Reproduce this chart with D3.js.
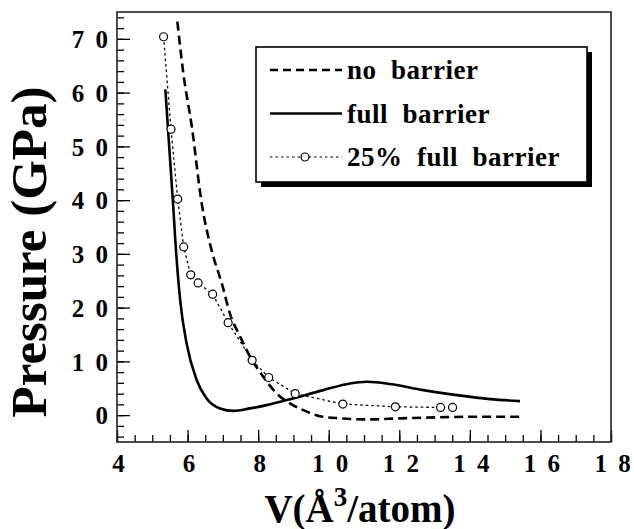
<!DOCTYPE html>
<html>
<head>
<meta charset="utf-8">
<script src="https://cdn.jsdelivr.net/npm/d3@7"></script>
<style>
  body { margin: 0; background: #fff; }
  svg, svg text { font-family: "Liberation Serif", "Times New Roman", serif; font-weight: bold; }
  .tick text { font-size: 25px; word-spacing: 5px; }
</style>
</head>
<body>
<svg width="634" height="529"></svg>
<script>
// values
const noBarrierV = [5.71, 5.88, 6.12, 6.40, 6.68, 6.97, 7.2, 7.49, 7.77, 8.15, 8.53, 8.9, 9.28, 9.75, 10.32, 11.08, 12.02, 13.15, 14.1, 15.42];
const noBarrierP = [73.2, 63.6, 53.7, 39.4, 30.7, 24.5, 18.9, 14.6, 10.9, 7.1, 4.0, 2.2, 0.93, -0.19, -0.6, -0.8, -0.6, -0.4, -0.3, -0.3];

const fullBarrierV = [5.37, 5.6, 5.64, 5.79, 5.97, 6.26, 6.54, 6.92, 7.30, 7.77, 8.24, 8.81, 9.85, 10.6, 11.08, 11.74, 12.68, 13.63, 14.57, 15.42];
const fullBarrierP = [60.6, 38.2, 33.8, 21.4, 13.4, 6.5, 3.1, 1.25, 0.8, 1.25, 1.86, 2.8, 4.65, 5.9, 6.2, 5.8, 4.65, 3.72, 2.98, 2.6];

const quarterV = [5.32, 5.53, 5.72, 5.89, 6.09, 6.30, 6.71, 7.15, 7.83, 8.30, 9.05, 10.40, 11.89, 13.17, 13.51];
const quarterP = [70.4, 53.2, 40.2, 31.3, 26.1, 24.6, 22.5, 17.2, 10.2, 7.0, 4.0, 2.05, 1.55, 1.43, 1.43];

const xTicks = [4, 6, 8, 10, 12, 14, 16, 18];
const yTicks = [0, 10, 20, 30, 40, 50, 60, 70];
const legendLabels = ['no  barrier', 'full  barrier', '25%  full  barrier'];

const svg = d3.select('svg');
const margin = { top: 12, right: 23, bottom: 87, left: 117 };
const width = +svg.attr('width') - margin.left - margin.right;
const height = +svg.attr('height') - margin.top - margin.bottom;

const x = d3.scaleLinear().domain([4, 18]).range([0, width]);
const y = d3.scaleLinear().domain([-5, 75]).range([height, 0]);

const g = svg.append('g').attr('transform', `translate(${margin.left},${margin.top})`);

const spaced = d => String(d).split('').join(' ');

// minor ticks
g.append('g')
  .attr('transform', `translate(0,${height})`)
  .call(d3.axisBottom(x).tickValues(d3.range(4, 18.01, 0.5)).tickSize(-7).tickFormat(''))
  .call(a => a.select('.domain').remove());
g.append('g')
  .call(d3.axisLeft(y).tickValues(d3.range(-4, 75, 2)).tickSize(-7).tickFormat(''))
  .call(a => a.select('.domain').remove());

// major ticks + labels
const xAxis = g.append('g')
  .attr('transform', `translate(0,${height})`)
  .call(d3.axisBottom(x).tickValues(xTicks).tickSize(-12).tickPadding(0).tickFormat(spaced));
xAxis.selectAll('text')
  .attr('y', 30).attr('dy', 0).attr('dx', 1)
  .attr('fill', '#000');

const yAxis = g.append('g')
  .call(d3.axisLeft(y).tickValues(yTicks).tickSize(-13).tickPadding(0).tickFormat(spaced));
yAxis.selectAll('text')
  .attr('x', -9).attr('dy', '0.35em')
  .attr('fill', '#000');

svg.selectAll('.tick line').attr('stroke', '#000').attr('stroke-width', 1.3);
svg.selectAll('.domain').remove();
svg.selectAll('g').attr('font-family', null).attr('font-size', null);

// frame
g.append('rect')
  .attr('width', width).attr('height', height)
  .attr('fill', 'none').attr('stroke', '#222').attr('stroke-width', 1.6);

// curves
const mono = d3.line().x(d => x(d[0])).y(d => y(d[1])).curve(d3.curveMonotoneX);
const straight = d3.line().x(d => x(d[0])).y(d => y(d[1]));

const noBarrier = d3.zip(noBarrierV, noBarrierP);
const fullBarrier = d3.zip(fullBarrierV, fullBarrierP);
const quarter = d3.zip(quarterV, quarterP);

g.append('path').datum(noBarrier)
  .attr('d', mono).attr('fill', 'none').attr('stroke', '#000')
  .attr('stroke-width', 2.6).attr('stroke-dasharray', '9,5');

g.append('path').datum(fullBarrier)
  .attr('d', mono).attr('fill', 'none').attr('stroke', '#000')
  .attr('stroke-width', 2.6);

g.append('path').datum(quarter)
  .attr('d', straight).attr('fill', 'none').attr('stroke', '#000')
  .attr('stroke-width', 1.3).attr('stroke-dasharray', '2.5,3');

g.selectAll('.pt').data(quarter).enter()
  .append('circle').attr('class', 'pt')
  .attr('cx', d => x(d[0])).attr('cy', d => y(d[1])).attr('r', 4)
  .attr('fill', '#fff').attr('stroke', '#000').attr('stroke-width', 1.2);

// legend
const lg = svg.append('g').attr('transform', 'translate(256,47)');
lg.append('rect').attr('x', 5).attr('y', 5).attr('width', 331).attr('height', 135).attr('fill', '#000');
lg.append('rect').attr('width', 331).attr('height', 135)
  .attr('fill', '#fff').attr('stroke', '#000').attr('stroke-width', 1.6);

const rows = [
  { dash: '8,5', w: 2.4, marker: false },
  { dash: null, w: 2.4, marker: false },
  { dash: '2.5,3', w: 1.2, marker: true },
];
rows.forEach((r, i) => {
  const ry = 23 + i * 43.5;
  lg.append('line').attr('x1', 14).attr('x2', 86).attr('y1', ry).attr('y2', ry)
    .attr('stroke', '#000').attr('stroke-width', r.w)
    .attr('stroke-dasharray', r.dash);
  if (r.marker) {
    lg.append('circle').attr('cx', 49).attr('cy', ry).attr('r', 4)
      .attr('fill', '#fff').attr('stroke', '#000').attr('stroke-width', 1.2);
  }
  lg.append('text').attr('x', 91).attr('y', ry + 9)
    .style('font-size', '27px').style('letter-spacing', '0.5px').style('white-space', 'pre')
    .text(legendLabels[i]);
});

// axis titles
svg.append('text')
  .attr('transform', 'translate(46,252) rotate(-90)')
  .attr('text-anchor', 'middle')
  .style('font-size', '51px')
  .text('Pressure (GPa)');

const xt = svg.append('text')
  .attr('x', 360).attr('y', 522)
  .attr('text-anchor', 'middle')
  .style('font-size', '39px');
xt.append('tspan').text('V(Å');
xt.append('tspan').attr('dy', -16).style('font-size', '27px').text('3');
xt.append('tspan').attr('dy', 16).text('/atom)');
</script>
</body>
</html>
